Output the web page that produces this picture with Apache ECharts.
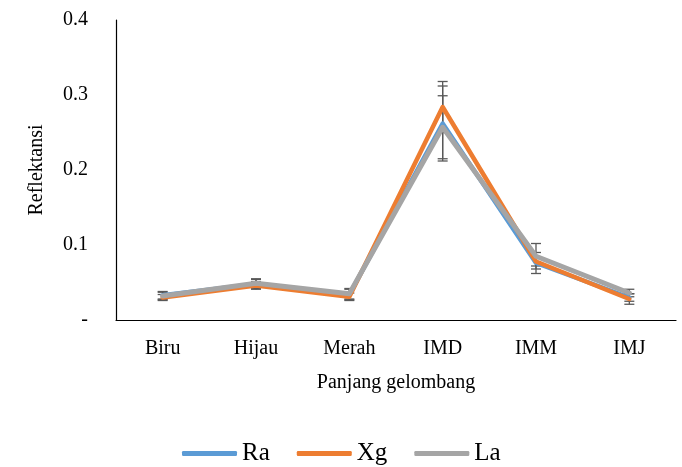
<!DOCTYPE html>
<html>
<head>
<meta charset="utf-8">
<script src="https://cdn.jsdelivr.net/npm/echarts@6/dist/echarts.min.js"></script>
<style>html,body{margin:0;padding:0;background:#fff;}#c{width:682px;height:467px;}</style>
</head>
<body>
<div id="c"></div>
<script>
const categories = ['Biru', 'Hijau', 'Merah', 'IMD', 'IMM', 'IMJ'];
const seriesNames = ['Ra', 'Xg', 'La'];
const valRa = [0.033, 0.048, 0.034, 0.262, 0.076, 0.030];
const valXg = [0.030, 0.046, 0.031, 0.284, 0.078, 0.028];
const valLa = [0.032, 0.049, 0.035, 0.257, 0.085, 0.036];
const errRa = [0.005, 0.006, 0.007, 0.050, 0.014, 0.005];
const errXg = [0.004, 0.005, 0.005, 0.034, 0.006, 0.007];
const errLa = [0.005, 0.006, 0.007, 0.042, 0.017, 0.005];
const yTicks = [0, 0.1, 0.2, 0.3, 0.4];

const colors = ['#5B9BD5', '#ED7D31', '#A5A5A5'];
const vals = [valRa, valXg, valLa];
const errs = [errRa, errXg, errLa];
const font = 'Liberation Serif';

function errSeries(v, e) {
  return {
    type: 'custom',
    data: v.map((y, i) => [i, y - e[i], y + e[i]]),
    silent: true,
    renderItem: function (params, api) {
      const lo = api.coord([api.value(0), api.value(1)]);
      const hi = api.coord([api.value(0), api.value(2)]);
      const hw = 5;
      const st = { stroke: '#595959', lineWidth: 1.3 };
      return {
        type: 'group',
        children: [
          { type: 'line', shape: { x1: lo[0], y1: lo[1], x2: hi[0], y2: hi[1] }, style: st },
          { type: 'line', shape: { x1: lo[0] - hw, y1: lo[1], x2: lo[0] + hw, y2: lo[1] }, style: st },
          { type: 'line', shape: { x1: hi[0] - hw, y1: hi[1], x2: hi[0] + hw, y2: hi[1] }, style: st }
        ]
      };
    },
    encode: { x: 0, y: [1, 2] }
  };
}

const series = [];
seriesNames.forEach((n, k) => {
  series.push({
    name: n, type: 'line', data: vals[k], symbol: 'none', showSymbol: false,
    lineStyle: { color: colors[k], width: k === 2 ? 5 : 4.5, cap: 'round', join: 'round' },
    itemStyle: { color: colors[k] }
  });
  series.push(errSeries(vals[k], errs[k]));
});

const chart = echarts.init(document.getElementById('c'), null, { renderer: 'canvas' });
chart.setOption({
  animation: false,
  backgroundColor: '#fff',
  grid: { left: 116, right: 6, top: 20, bottom: 147 },
  legend: {
    data: seriesNames.map(n => ({ name: n, icon: 'roundRect' })),
    left: 177, top: 436,
    itemWidth: 55, itemHeight: 5, itemGap: 27,
    textStyle: { fontFamily: font, fontSize: 25, color: '#000' }
  },
  xAxis: {
    type: 'category', data: categories, boundaryGap: true,
    axisLine: { lineStyle: { color: '#000', width: 1.2 } },
    axisTick: { show: false },
    axisLabel: { fontFamily: font, fontSize: 20, color: '#000', margin: 19 },
    name: 'Panjang gelombang', nameLocation: 'middle', nameGap: 53,
    nameTextStyle: { fontFamily: font, fontSize: 20, color: '#000' }
  },
  yAxis: {
    type: 'value', min: yTicks[0], max: yTicks[yTicks.length - 1], interval: 0.1,
    axisLine: { show: true, lineStyle: { color: '#000', width: 1.2 } },
    axisTick: { show: false },
    splitLine: { show: false },
    axisLabel: {
      fontFamily: font, fontSize: 20, color: '#000', margin: 28,
      formatter: v => v === 0 ? '-' : v.toFixed(1)
    },
    name: 'Reflektansi', nameLocation: 'middle', nameGap: 69, nameRotate: 90,
    nameTextStyle: { fontFamily: font, fontSize: 20, color: '#000' }
  },
  series: series
});
</script>
</body>
</html>
